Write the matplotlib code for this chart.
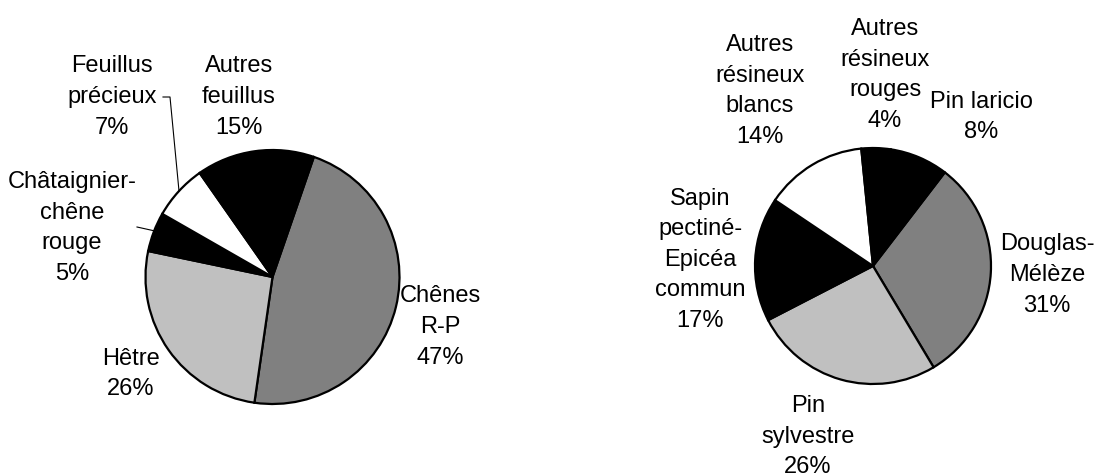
import matplotlib
matplotlib.use("Agg")
import matplotlib.pyplot as plt

# ---- data ----
feuillus_labels = ["Chênes\nR-P", "Hêtre", "Châtaignier-\nchêne\nrouge",
                   "Feuillus\nprécieux", "Autres\nfeuillus"]
feuillus_values = [47, 26, 5, 7, 15]
feuillus_colors = ["#808080", "#c0c0c0", "#000000", "#ffffff", "#000000"]

resineux_labels = ["Douglas-\nMélèze", "Pin\nsylvestre", "Sapin\npectiné-\nEpicéa\ncommun",
                   "Autres\nrésineux\nblancs", "Autres\nrésineux\nrouges", "Pin laricio"]
resineux_values = [31, 26, 17, 14, 4, 8]
resineux_colors = ["#808080", "#c0c0c0", "#000000", "#ffffff", "#000000", "#000000"]

# ---- layout (pixel coordinates, y measured from top) ----
W, H = 1096, 477
def Y(y):
    return H - y

left_center = (272.5, Y(278))
left_radius = 127
right_center = (873, Y(267))
right_radius = 118

left_label_pos = [(440, 327), (131, 374), (72, 228), (112, 97), (239, 97)]
right_label_pos = [(1047, 275), (808, 437), (700, 260), (760, 91), (885, 75), (981, 117)]

plt.rcParams['font.family'] = ['Liberation Sans', 'DejaVu Sans']

fig = plt.figure(figsize=(W / 100, H / 100), dpi=100)
ax = fig.add_axes([0, 0, 1, 1])

wedge_style = dict(edgecolor="black", linewidth=1.6)
ax.pie(feuillus_values, colors=feuillus_colors, startangle=71, counterclock=False,
       center=left_center, radius=left_radius, wedgeprops=wedge_style)
ax.pie(resineux_values, colors=resineux_colors, startangle=52.5, counterclock=False,
       center=right_center, radius=right_radius, wedgeprops=wedge_style)

ax.set_xlim(0, W)
ax.set_ylim(0, H)
ax.set_aspect("equal")
ax.axis("off")

fs = 17
ls = 1.5
for lab, val, (x, y) in zip(feuillus_labels, feuillus_values, left_label_pos):
    ax.text(x, Y(y), f"{lab}\n{val}%", ha="center", va="center", fontsize=fs,
            linespacing=ls, multialignment="center")
for lab, val, (x, y) in zip(resineux_labels, resineux_values, right_label_pos):
    ax.text(x, Y(y), f"{lab}\n{val}%", ha="center", va="center", fontsize=fs,
            linespacing=ls, multialignment="center")

# leader lines
ax.plot([163, 170, 179], [Y(98), Y(98), Y(192)], color="black", lw=0.8)
ax.plot([137, 155], [Y(228), Y(232)], color="black", lw=0.8)

fig.savefig("out.png", dpi=100)
